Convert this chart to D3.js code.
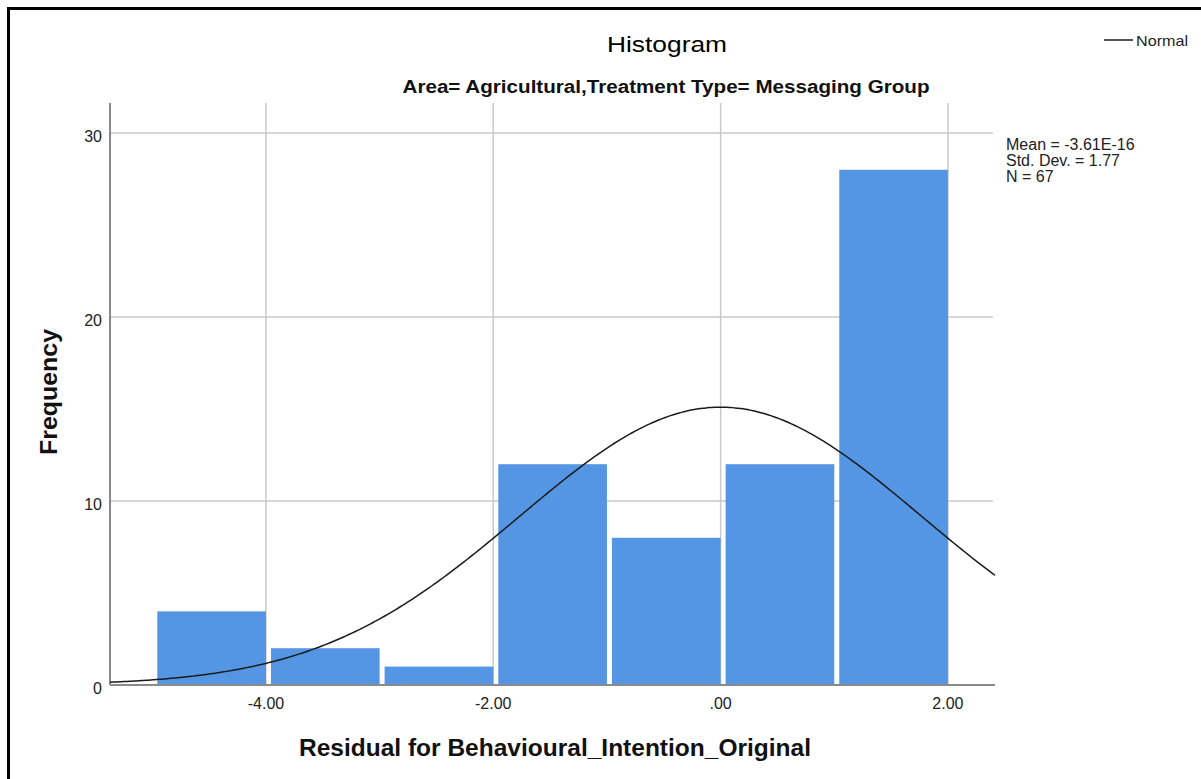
<!DOCTYPE html>
<html>
<head>
<meta charset="utf-8">
<script src="https://cdn.jsdelivr.net/npm/d3@7"></script>
<style>
  html, body { margin: 0; padding: 0; background: #fff; }
  svg { display: block; }
  text { font-family: "Liberation Sans", Arial, sans-serif; fill: #111; }
</style>
</head>
<body>
<svg id="chart" width="1201" height="779"></svg>
<script>
// Histogram bins (residual intervals) and their frequencies
const binStarts = [-5, -4, -3, -2, -1, 0, 1];
const binWidth = 1;
const frequencies = [4, 2, 1, 12, 8, 12, 28];

// Summary statistics shown beside the plot
const statMean = -3.61e-16;
const statSD = 1.77;
const statN = 67;
const statLines = ["Mean = -3.61E-16", "Std. Dev. = 1.77", "N = 67"];

// Axis ticks
const xTicks = [-4, -2, 0, 2];
const xTickLabels = ["-4.00", "-2.00", ".00", "2.00"];
const yTicks = [0, 10, 20, 30];

const titleText = "Histogram";
const subtitleText = "Area= Agricultural,Treatment Type= Messaging Group";
const xTitle = "Residual for Behavioural_Intention_Original";
const yTitle = "Frequency";
const legendLabel = "Normal";

const svg = d3.select("#chart");
const W = 1201, H = 779;

svg.append("rect").attr("width", W).attr("height", H).attr("fill", "#fff");

// Frame on the top and left edges
svg.append("line").attr("x1", 7).attr("x2", W).attr("y1", 8.5).attr("y2", 8.5)
  .attr("stroke", "#000").attr("stroke-width", 3);
svg.append("line").attr("x1", 8.5).attr("x2", 8.5).attr("y1", 7).attr("y2", H)
  .attr("stroke", "#000").attr("stroke-width", 3);

// Plot area
const plotL = 110, plotR = 995, plotT = 103, plotB = 685;
const x = d3.scaleLinear().domain([-5.372, 2.414]).range([plotL, plotR]);
const y = d3.scaleLinear().domain([0, 31.63]).range([plotB, plotT]);

// Grid lines
const grid = svg.append("g");
grid.selectAll("line.h").data(yTicks.filter(d => d > 0)).join("line")
  .attr("class", "h")
  .attr("x1", plotL).attr("x2", 993)
  .attr("y1", d => y(d)).attr("y2", d => y(d))
  .attr("stroke", "#c9c9c9").attr("stroke-width", 1.5);
grid.selectAll("line.v").data(xTicks).join("line")
  .attr("class", "v")
  .attr("x1", d => x(d)).attr("x2", d => x(d))
  .attr("y1", plotT).attr("y2", plotB)
  .attr("stroke", "#c9c9c9").attr("stroke-width", 1.5);

// Bars
const bins = binStarts.map((s, i) => ({ x0: s, x1: s + binWidth, n: frequencies[i] }));
svg.append("g").selectAll("rect").data(bins).join("rect")
  .attr("x", d => x(d.x0) + 5)
  .attr("width", d => x(d.x1) - x(d.x0) - 5)
  .attr("y", d => y(d.n))
  .attr("height", d => y(0) - y(d.n))
  .attr("fill", "#5596e4");

// Axis lines
svg.append("line").attr("x1", plotL).attr("x2", plotL).attr("y1", plotT).attr("y2", plotB)
  .attr("stroke", "#8a8a8a").attr("stroke-width", 2);
svg.append("line").attr("x1", plotL).attr("x2", plotR).attr("y1", plotB).attr("y2", plotB)
  .attr("stroke", "#8a8a8a").attr("stroke-width", 2);

// Normal curve scaled to counts: N * binWidth * pdf
const pdf = v => Math.exp(-0.5 * Math.pow((v - statMean) / statSD, 2)) / (statSD * Math.sqrt(2 * Math.PI));
const [dx0, dx1] = x.domain();
const curvePts = d3.range(0, 301).map(i => {
  const v = dx0 + (dx1 - dx0) * i / 300;
  return [v, statN * binWidth * pdf(v)];
});
svg.append("path")
  .datum(curvePts)
  .attr("fill", "none")
  .attr("stroke", "#1a1a1a")
  .attr("stroke-width", 1.5)
  .attr("d", d3.line().x(d => x(d[0])).y(d => y(d[1])).curve(d3.curveBasis));

// Tick labels
svg.append("g").selectAll("text").data(yTicks).join("text")
  .attr("x", 102).attr("y", d => y(d) + 9)
  .attr("text-anchor", "end")
  .attr("font-size", 16)
  .style("fill", "#222")
  .text(d => d);
svg.append("g").selectAll("text").data(xTicks).join("text")
  .attr("x", d => x(d)).attr("y", 709)
  .attr("text-anchor", "middle")
  .attr("font-size", 16)
  .style("fill", "#222")
  .text((d, i) => xTickLabels[i]);

// Titles
svg.append("text").attr("x", 667).attr("y", 52)
  .attr("text-anchor", "middle").attr("font-size", 22)
  .attr("textLength", 120).attr("lengthAdjust", "spacingAndGlyphs")
  .style("fill", "#000")
  .text(titleText);
svg.append("text").attr("x", 666).attr("y", 93)
  .attr("text-anchor", "middle").attr("font-size", 18).attr("font-weight", "bold")
  .attr("textLength", 527).attr("lengthAdjust", "spacingAndGlyphs")
  .text(subtitleText);
svg.append("text").attr("x", 555).attr("y", 756)
  .attr("text-anchor", "middle").attr("font-size", 23).attr("font-weight", "bold")
  .attr("textLength", 512).attr("lengthAdjust", "spacingAndGlyphs")
  .text(xTitle);
svg.append("text")
  .attr("transform", "translate(57,392) rotate(-90)")
  .attr("text-anchor", "middle").attr("font-size", 23).attr("font-weight", "bold")
  .attr("textLength", 126).attr("lengthAdjust", "spacingAndGlyphs")
  .text(yTitle);

// Legend
svg.append("line").attr("x1", 1104).attr("x2", 1133).attr("y1", 40).attr("y2", 40)
  .attr("stroke", "#555").attr("stroke-width", 2);
svg.append("text").attr("x", 1136).attr("y", 46)
  .attr("font-size", 15).style("fill", "#222")
  .attr("textLength", 52).attr("lengthAdjust", "spacingAndGlyphs")
  .text(legendLabel);

// Statistics block
svg.append("g").selectAll("text").data(statLines).join("text")
  .attr("x", 1006).attr("y", (d, i) => 150 + i * 16)
  .attr("font-size", 16).style("fill", "#222")
  .text(d => d);
</script>
</body>
</html>
